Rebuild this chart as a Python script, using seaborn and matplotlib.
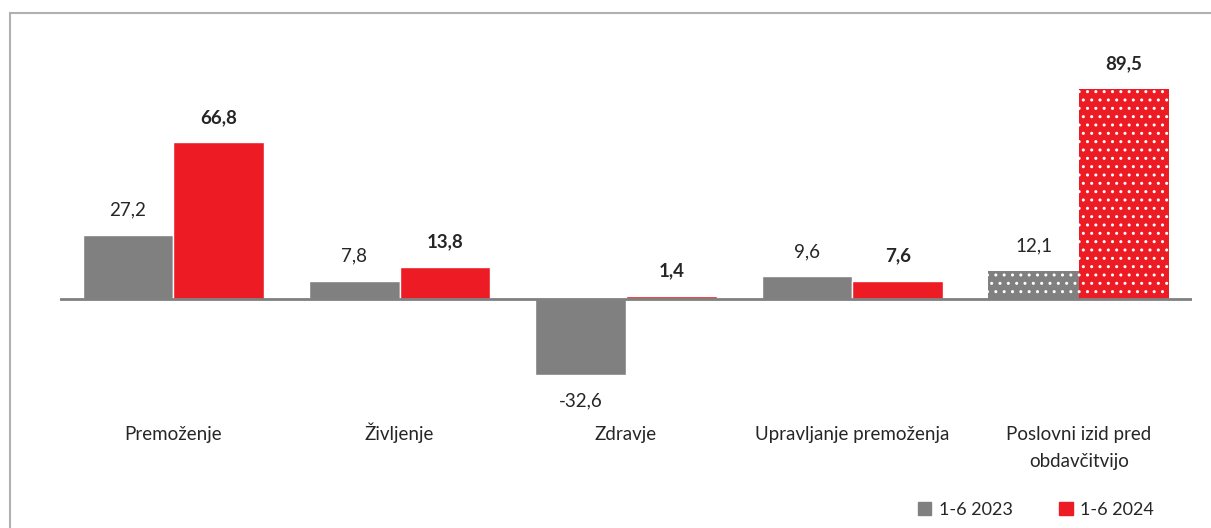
import pandas as pd
import matplotlib.pyplot as plt
import matplotlib.patches as mpatches
import matplotlib.transforms as mtransforms
import seaborn as sns

kategorije = ["Premoženje", "Življenje", "Zdravje", "Upravljanje premoženja",
              "Poslovni izid pred\nobdavčitvijo"]
obdobja = ["1-6 2023", "1-6 2024"]
vrednosti_2023 = [27.2, 7.8, -32.6, 9.6, 12.1]
vrednosti_2024 = [66.8, 13.8, 1.4, 7.6, 89.5]
barve = ["#808080", "#ED1C24"]

df = pd.DataFrame({
    "kategorija": kategorije * 2,
    "obdobje": [obdobja[0]] * 5 + [obdobja[1]] * 5,
    "vrednost": vrednosti_2023 + vrednosti_2024,
})

sns.set_theme(style="white")
plt.rcParams["font.family"] = ["Lato", "DejaVu Sans"]
fs = 13.5

fig = plt.figure(figsize=(12.11, 5.28), dpi=100)
ax = fig.add_axes([60 / 1211, 1 - 385 / 528, 1132 / 1211, 325 / 528])

sns.barplot(data=df, x="kategorija", y="vrednost", hue="obdobje",
            palette=barve, width=0.8, saturation=1, ax=ax, legend=False)

ax.set_ylim(-36.7, 101.9)
ax.set_xlim(-0.5, 4.5)
for s in ax.spines.values():
    s.set_visible(False)
ax.axhline(0, color="#808080", lw=2, zorder=5)
ax.set_yticks([])
ax.set_xticks([])
ax.set_xlabel("")
ax.set_ylabel("")

# imena kategorij, vsaka vrstica posebej na svoji osnovni črti
trans = mtransforms.blended_transform_factory(ax.transData, ax.transAxes)
for i, k in enumerate(kategorije):
    for j, vrstica in enumerate(k.split("\n")):
        ax.text(i, -(440 - 385 + 27 * j) / 325, vrstica, transform=trans,
                ha="center", va="baseline", fontsize=fs)

for ci, cont in enumerate(ax.containers):
    for i, bar in enumerate(cont):
        v = bar.get_height()
        if i == 4:
            bar.set_hatch("..")
            bar.set_edgecolor("white")
            bar.set_linewidth(0)
        x = bar.get_x() + bar.get_width() / 2
        off = 18 if v >= 0 else -18
        ax.annotate(f"{v:.1f}".replace(".", ","), (x, v), xytext=(0, off),
                    textcoords="offset points", ha="center", va="center",
                    fontsize=fs, fontweight="bold" if ci == 1 else "normal")

# okvir slike
fig.patches.append(mpatches.Rectangle((10 / 1211, -0.1), 1.2, 1 - 13 / 528 + 0.1,
                                      transform=fig.transFigure, fill=False,
                                      edgecolor="#b0b0b0", lw=1.5))

roc = [mpatches.Patch(color=c, label=l) for c, l in zip(barve, obdobja)]
fig.legend(handles=roc, loc="center", bbox_to_anchor=(1036 / 1211, 1 - 510 / 528),
           ncol=2, frameon=False, fontsize=13, handlelength=0.75, handleheight=0.75,
           handletextpad=0.4, columnspacing=2.6)

fig.savefig("out.png", dpi=100)
